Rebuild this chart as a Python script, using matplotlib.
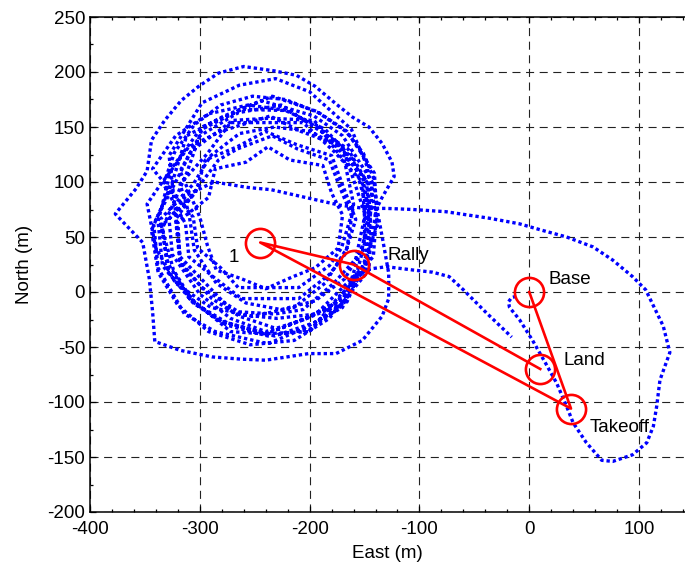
import matplotlib
matplotlib.use('Agg')
import matplotlib.pyplot as plt
from matplotlib.ticker import MultipleLocator

plt.rcParams['font.family'] = ['Liberation Sans', 'DejaVu Sans']
plt.rcParams['lines.scale_dashes'] = False
plt.rcParams['axes.unicode_minus'] = False

# ---------------- data (East, North in metres) ----------------
approach = [(-12, -4), (-16, -5), (-19, -9), (-18, -14), (-9, -25), (3, -44), (15, -65),
            (25, -83), (34, -104), (40, -119), (52, -137), (66, -153), (76, -154),
            (94, -148), (107, -137), (113, -122), (116, -104), (119, -80), (128, -55),
            (122, -31), (106, 2), (94, 14), (76, 29), (58, 41), (34, 50), (12, 56),
            (-9, 62), (-36, 67), (-76, 73), (-106, 75), (-130, 76), (-137, 76)]
entry = [(-150, 76), (-173, 79), (-204, 86), (-235, 93), (-256, 95), (-287, 100), (-312, 88)]
loop_a = [(-328, 66), (-325, 34), (-300, -2), (-272, -24), (-240, -36), (-205, -25), (-176, -10),
          (-150, 24), (-146, 60), (-148, 100), (-165, 130), (-196, 150), (-226, 170), (-265, 163),
          (-300, 142), (-318, 110)]
loop_d = [(-300, 68), (-293, 42), (-285, 20), (-262, 12), (-240, 3), (-215, 14), (-195, 22),
          (-174, 40), (-170, 70), (-180, 90), (-188, 115), (-218, 120), (-238, 132), (-258, 118),
          (-286, 112), (-292, 86)]
loop_f = [(-320, 64), (-318, 28), (-298, 4), (-265, -18), (-232, -20), (-206, -16), (-178, 8),
          (-158, 30), (-150, 68), (-152, 100), (-178, 128), (-206, 154), (-236, 154), (-272, 154),
          (-293, 126), (-318, 98)]
loop_m = [(-310, 72), (-305, 38), (-285, 8), (-258, -10), (-226, -16), (-195, -8), (-168, 12),
          (-152, 40), (-146, 72), (-152, 106), (-172, 132), (-200, 146), (-232, 150), (-264, 144),
          (-290, 124), (-306, 98)]
loop_b = [(-336, 66), (-329, 26), (-308, -8), (-276, -30), (-238, -40), (-200, -34), (-170, -12),
          (-150, 22), (-142, 50), (-140, 74), (-134, 86), (-123, 105), (-125, 118), (-134, 135),
          (-146, 150), (-161, 159), (-176, 171), (-195, 187), (-212, 197), (-232, 201), (-260, 205),
          (-283, 199), (-301, 187), (-317, 174), (-332, 156), (-344, 138), (-348, 110)]
loop_c = [(-358, 94), (-377, 71), (-352, 45), (-346, 12), (-343, -18), (-341, -45), (-318, -53),
          (-289, -59), (-263, -61), (-240, -62), (-201, -56), (-176, -56), (-152, -44), (-134, -22),
          (-128, -6), (-128, 17), (-133, 45), (-138, 72), (-142, 104), (-151, 126), (-167, 146),
          (-192, 163), (-222, 175), (-252, 178), (-281, 170), (-305, 152), (-323, 127), (-333, 98)]
loop_e = [(-313, 62), (-310, 32), (-288, 14), (-262, -6), (-238, -6), (-210, -6), (-182, 16),
          (-168, 34), (-158, 66), (-168, 92), (-180, 124), (-212, 134), (-240, 146), (-266, 132),
          (-295, 120), (-304, 90)]
loop_g = [(-335, 60), (-324, 20), (-308, -6), (-272, -36), (-242, -38), (-200, -36), (-175, -6),
          (-148, 22), (-145, 64), (-143, 100), (-170, 142), (-196, 160), (-244, 174), (-278, 160),
          (-312, 142), (-325, 100)]
loop_n = [(-344, 56), (-338, 18), (-320, -12), (-292, -36), (-254, -48), (-214, -44), (-182, -24),
          (-160, 6), (-150, 44), (-150, 84), (-160, 120), (-186, 148), (-222, 165), (-262, 166),
          (-298, 150), (-326, 112)]
loop_i = [(-338, 64), (-334, 24), (-306, -10), (-282, -26), (-240, -38), (-205, -25), (-166, -9),
          (-150, 28), (-138, 62), (-148, 115), (-162, 148), (-200, 182), (-231, 194), (-264, 188),
          (-298, 172), (-328, 124)]
loop_h = [(-322, 72), (-318, 32), (-293, 6), (-268, -20), (-230, -24), (-194, -20), (-168, 6),
          (-142, 32), (-139, 72), (-141, 108), (-166, 146), (-193, 164), (-234, 178), (-262, 166),
          (-298, 148), (-312, 108)]
loop_j = [(-334, 58), (-329, 18), (-302, -12), (-275, -28), (-232, -40), (-196, -28), (-172, -12),
          (-146, 20), (-144, 58), (-147, 100), (-172, 128), (-196, 156), (-236, 158), (-270, 156),
          (-308, 128), (-322, 100)]
loop_k = [(-342, 62), (-338, 22), (-314, -20), (-286, -36), (-238, -47), (-207, -34), (-170, -14),
          (-158, 24), (-146, 60), (-158, 96), (-170, 132), (-208, 146), (-236, 160), (-281, 146),
          (-310, 132), (-337, 96)]
loop_o = [(-348, 80), (-340, 40), (-322, 8), (-290, -14), (-252, -22), (-214, -14), (-186, 8),
          (-166, 40), (-160, 80), (-168, 118), (-190, 148), (-220, 165), (-256, 170), (-292, 162),
          (-322, 142), (-343, 112)]
loop_l = [(-306, 68), (-302, 40), (-281, 22), (-265, 4), (-234, 4), (-210, 4), (-182, 24),
          (-171, 40), (-162, 70), (-172, 94), (-182, 120), (-211, 130), (-234, 142), (-266, 130),
          (-283, 120), (-304, 92)]
exit_loop = [(-322, 66), (-318, 26), (-289, -6), (-264, -22), (-228, -34), (-200, -22),
             (-170, -6), (-156, 16), (-145, 21)]
exit_east = [(-130, 23), (-106, 20), (-88, 18), (-73, 14), (-60, 2), (-39, -19), (-16, -41)]

track_segments = [approach, entry, loop_a, loop_d, loop_f, loop_m, loop_b, loop_c, loop_e,
                  loop_g, loop_n, loop_i, loop_h, loop_j, loop_k, loop_o, loop_l, exit_loop,
                  exit_east]

wp_names = ['Base', 'Takeoff', '1', 'Rally', 'Land']
wp_east = [0, 38, -245, -160, 10]
wp_north = [0, -106, 45, 25, -70]
label_east = [17.6, 54.7, -274, -129, 31.6]
label_north = [7.3, -127, 27.5, 29, -66.4]

x_ticks = [-400, -300, -200, -100, 0, 100]
y_ticks = [-200, -150, -100, -50, 0, 50, 100, 150, 200, 250]

# ---------------- figure ----------------
fig = plt.figure(figsize=(6.85, 5.67), dpi=100)
ax = fig.add_axes([90 / 685, 55 / 567, 595 / 685, 495 / 567])

tx = [p[0] for seg in track_segments for p in seg]
ty = [p[1] for seg in track_segments for p in seg]
ax.plot(tx, ty, color='#0000ff', lw=2.4, linestyle=(0, (2.4, 2.1)),
        dash_capstyle='butt', solid_joinstyle='round', zorder=3)

ax.plot(wp_east, wp_north, color='#ff0000', lw=1.9, zorder=4)
ax.plot(wp_east, wp_north, linestyle='none', marker='o', markersize=21,
        markerfacecolor='none', markeredgecolor='#ff0000', markeredgewidth=1.9, zorder=5)

for name, lx, ly in zip(wp_names, label_east, label_north):
    ax.text(lx, ly, name, fontsize=13.5, ha='left', va='baseline', color='black', zorder=6)

ax.set_xlim(-400, 141.8)
ax.set_ylim(-200, 250)
ax.set_xticks(x_ticks)
ax.set_yticks(y_ticks)
ax.xaxis.set_minor_locator(MultipleLocator(20))
ax.yaxis.set_minor_locator(MultipleLocator(25))
ax.tick_params(which='both', direction='in', top=True, right=False, labelsize=13.5,
               width=0.9, color='black')
ax.tick_params(which='major', length=4)
ax.tick_params(which='minor', length=2.5)
ax.tick_params(axis='x', pad=6.5)
ax.tick_params(axis='y', pad=3.5)
for side in ['left', 'bottom', 'top']:
    ax.spines[side].set_linewidth(1.1)
ax.spines['right'].set_visible(False)

ax.grid(True, which='major', color='#222222', lw=0.8, linestyle=(0, (5.8, 4.0)))
ax.set_axisbelow(True)

ax.set_xlabel('East (m)', fontsize=13.5, labelpad=5)
ax.set_ylabel('North (m)', fontsize=13.5, labelpad=10.5)

fig.savefig('out.png', dpi=100)
